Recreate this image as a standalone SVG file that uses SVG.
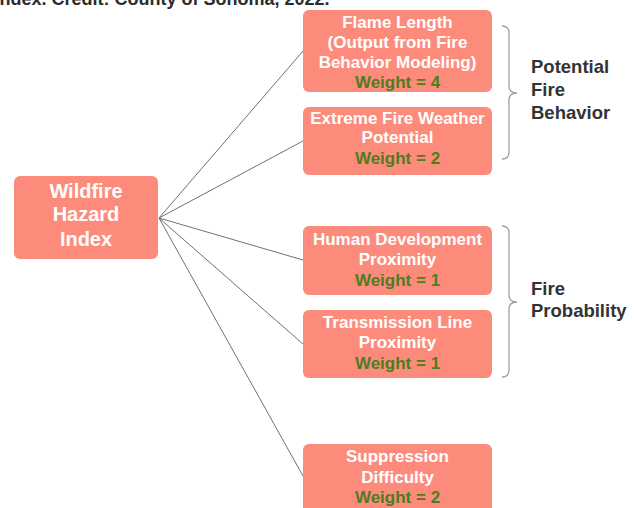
<svg xmlns="http://www.w3.org/2000/svg" width="634" height="508" viewBox="0 0 634 508">
<style>
.box{fill:#fd8b7c}
.t{font-family:"Liberation Sans",Arial,sans-serif;font-weight:bold;fill:#ffffff;text-anchor:middle;font-size:17px}
.w{fill:#4e7d1f}
.big{font-size:20px}
.lab{font-family:"Liberation Sans",Arial,sans-serif;font-weight:bold;fill:#333333;font-size:18.5px}
.con{stroke:#707070;stroke-width:1;fill:none}
.br{stroke:#a0a0a0;stroke-width:1.3;fill:none}
</style>
<rect width="634" height="508" fill="#ffffff"/>
<text x="-5.5" y="4.5" class="lab" style="font-size:18px;fill:#2b2b2b">Index. Credit: County of Sonoma, 2022.</text>
<g id="connectors">
<line class="con" x1="159" y1="218" x2="303" y2="51"/>
<line class="con" x1="159" y1="218" x2="303" y2="141"/>
<line class="con" x1="159" y1="218" x2="303" y2="260"/>
<line class="con" x1="159" y1="218" x2="303" y2="344"/>
<line class="con" x1="159" y1="218" x2="303" y2="476"/>
</g>
<g id="root">
<rect class="box" x="14" y="176" width="144" height="83" rx="6"/>
<text class="t big" x="86" y="198">Wildfire</text>
<text class="t big" x="86" y="221">Hazard</text>
<text class="t big" x="86" y="246">Index</text>
</g>
<g id="flame">
<rect class="box" x="303" y="10" width="189" height="82" rx="6"/>
<text class="t" x="397.5" y="28">Flame Length</text>
<text class="t" x="397.5" y="48">(Output from Fire</text>
<text class="t" x="397.5" y="68">Behavior Modeling)</text>
<text class="t w" x="397.5" y="88">Weight = 4</text>
</g>
<g id="weather">
<rect class="box" x="303" y="107" width="189" height="68" rx="6"/>
<text class="t" x="397.5" y="124">Extreme Fire Weather</text>
<text class="t" x="397.5" y="143">Potential</text>
<text class="t w" x="397.5" y="164">Weight = 2</text>
</g>
<g id="human">
<rect class="box" x="303" y="226" width="189" height="69" rx="6"/>
<text class="t" x="397.5" y="245">Human Development</text>
<text class="t" x="397.5" y="265">Proximity</text>
<text class="t w" x="397.5" y="286">Weight = 1</text>
</g>
<g id="transmission">
<rect class="box" x="303" y="310" width="189" height="68" rx="6"/>
<text class="t" x="397.5" y="328">Transmission Line</text>
<text class="t" x="397.5" y="348">Proximity</text>
<text class="t w" x="397.5" y="369">Weight = 1</text>
</g>
<g id="suppression">
<rect class="box" x="303" y="444" width="189" height="72" rx="6"/>
<text class="t" x="397.5" y="462">Suppression</text>
<text class="t" x="397.5" y="483">Difficulty</text>
<text class="t w" x="397.5" y="503">Weight = 2</text>
</g>
<g id="potential-fire-behavior">
<path class="br" d="M502,26 Q509,26 509,33 L509,86 Q509,93 517,93 Q509,93 509,100 L509,152 Q509,159 502,159"/>
<text class="lab" x="531" y="73">Potential</text>
<text class="lab" x="531" y="96">Fire</text>
<text class="lab" x="531" y="119">Behavior</text>
</g>
<g id="fire-probability">
<path class="br" d="M502,226 Q509,226 509,233 L509,295 Q509,302 517,302 Q509,302 509,309 L509,370 Q509,377 502,377"/>
<text class="lab" x="531" y="295">Fire</text>
<text class="lab" x="531" y="317">Probability</text>
</g>
</svg>
